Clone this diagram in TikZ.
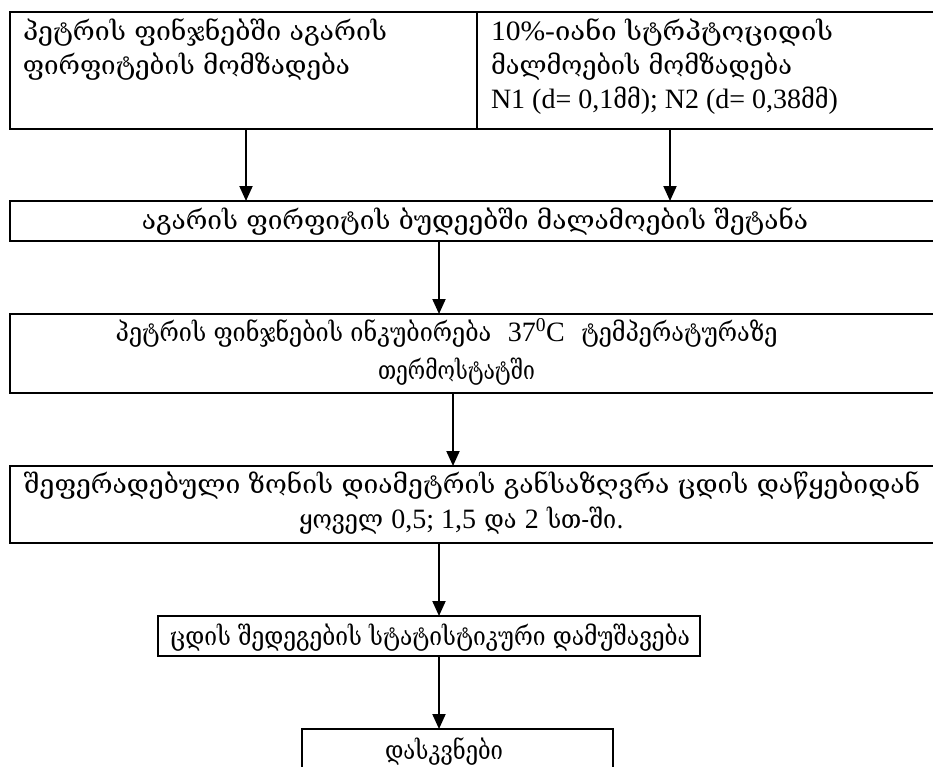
\documentclass[tikz,border=0pt]{standalone}
\usepackage{fontspec}
\usepackage{graphicx}
\setmainfont{Liberation Serif}
\newfontfamily\geo{DejaVu Serif}
\usetikzlibrary{arrows.meta}
% set a line to a given width, keeping its height
\newcommand{\fitw}[2]{\resizebox{#1}{\height}{#2}}
% Latin pieces inside Georgian lines
\newcommand{\lat}[1]{{\rmfamily\fontsize{28}{30}\selectfont #1}}
% slightly narrowed Georgian run
\newcommand{\gn}[1]{\scalebox{0.9}[1]{#1}}

\begin{document}
\begin{tikzpicture}[x=1pt,y=-1pt,
  box/.style={draw,line width=2.2pt,rectangle,inner sep=0pt,outer sep=0pt},
  txt/.style={inner sep=0pt,outer sep=0pt,font=\geo\fontsize{26}{30}\selectfont},
  arr/.style={line width=2pt,-{Triangle[length=15pt,width=13pt]}}]
\clip (0,0) rectangle (933,766);

% boxes
\node[box,minimum width=467pt,minimum height=117pt] (b1) at (243.5,70.5) {};
\node[box,minimum width=523pt,minimum height=117pt] (b1r) at (738.5,70.5) {};
\node[box,minimum width=986pt,minimum height=40pt] (b2) at (503,221) {};
\node[box,minimum width=986pt,minimum height=79pt] (b3) at (503,353.5) {};
\node[box,minimum width=986pt,minimum height=77pt] (b4) at (503,504.5) {};
\node[box,minimum width=542pt,minimum height=40pt] (b5) at (429,636) {};
\node[box,minimum width=311pt,minimum height=72pt] (b6) at (457.5,765) {};

% texts
\node[txt,anchor=base west] (t1a) at (23,40) {\fitw{364pt}{პეტრის ფინჯნებში აგარის}};
\node[txt,anchor=base west] (t1b) at (23,74) {\fitw{327pt}{ფირფიტების მომზადება}};
\node[txt,anchor=base west] (t2a) at (491,40) {\fitw{342pt}{\lat{10\%-}იანი სტრპტოციდის}};
\node[txt,anchor=base west] (t2b) at (491,74) {\fitw{301pt}{მალმოების მომზადება}};
\node[txt,anchor=base west] (t2c) at (491,108) {\lat{N1 (d= 0,1}\gn{მმ}\lat{); N2 (d= 0,38}\gn{მმ}\lat{)}};
\node[txt,anchor=base] (t3) at (475,229) {\fitw{666pt}{აგარის ფირფიტის ბუდეებში მალამოების შეტანა}};
\node[txt,anchor=base] (t4a) at (446.5,341) {\gn{პეტრის ფინჯნების ინკუბირება} \ \lat{37\textsuperscript{0}C} \ \gn{ტემპერატურაზე}};
\node[txt,anchor=base] (t4b) at (456.5,379) {\fitw{157pt}{თერმოსტატში}};
\node[txt,anchor=base] (t5a) at (472,493) {\fitw{896pt}{შეფერადებული ზონის დიამეტრის განსაზღვრა ცდის დაწყებიდან}};
\node[txt,anchor=base] (t5b) at (461.5,528) {\gn{ყოველ} \lat{0,5; 1,5} \gn{და} \lat{2} \gn{სთ-ში.}};
\node[txt,anchor=base] (t6) at (430,645) {\fitw{520pt}{ცდის შედეგების სტატისტიკური დამუშავება}};
\node[txt,anchor=base] (t7) at (444,759) {\fitw{118pt}{დასკვნები}};

% connectors
\coordinate (x1) at (246,0);
\coordinate (x2) at (670,0);
\coordinate (x3) at (439,0);
\coordinate (x4) at (453,0);
\draw[arr] (x1 |- b1.south) -- (x1 |- b2.north);
\draw[arr] (x2 |- b1r.south) -- (x2 |- b2.north);
\draw[arr] (x3 |- b2.south) -- (x3 |- b3.north);
\draw[arr] (x4 |- b3.south) -- (x4 |- b4.north);
\draw[arr] (x3 |- b4.south) -- (x3 |- b5.north);
\draw[arr] (x3 |- b5.south) -- (x3 |- b6.north);
\end{tikzpicture}
\end{document}
